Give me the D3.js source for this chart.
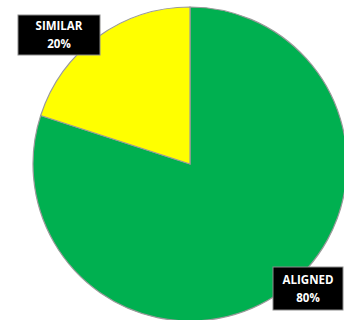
<!DOCTYPE html>
<html>
<head>
<meta charset="utf-8">
<script src="https://cdn.jsdelivr.net/npm/d3@7"></script>
<style>
  body { margin: 0; background: #fff; }
</style>
</head>
<body>
<div id="chart"></div>
<script>
var categories = ["ALIGNED", "SIMILAR"];
var values = [80, 20];
var percentLabels = ["80%", "20%"];
var colors = ["#00B050", "#FFFF00"];

var width = 344, height = 320;
var cx = 190, cy = 164, radius = 157;

var svg = d3.select("#chart")
  .append("svg")
  .attr("width", width)
  .attr("height", height);

var data = categories.map(function(c, i) {
  return { name: c, value: values[i], pct: percentLabels[i], color: colors[i] };
});

var pie = d3.pie()
  .sort(null)
  .value(function(d) { return d.value; });

var arc = d3.arc()
  .innerRadius(0)
  .outerRadius(radius);

var g = svg.append("g")
  .attr("transform", "translate(" + cx + "," + cy + ")");

g.selectAll("path")
  .data(pie(data))
  .enter()
  .append("path")
  .attr("d", arc)
  .style("fill", function(d) { return d.data.color; })
  .style("stroke", "#9a9a9a")
  .style("stroke-width", 1.2);

// label boxes (placed like the original data callouts)
var labelPos = [
  { x: 273, y: 267, w: 70, h: 43 },
  { x: 18, y: 15, w: 82, h: 40 }
];

var labels = svg.selectAll("g.label")
  .data(data)
  .enter()
  .append("g")
  .attr("class", "label")
  .attr("transform", function(d, i) {
    return "translate(" + labelPos[i].x + "," + labelPos[i].y + ")";
  });

labels.append("rect")
  .attr("width", function(d, i) { return labelPos[i].w; })
  .attr("height", function(d, i) { return labelPos[i].h; })
  .style("fill", "#000")
  .style("stroke", "#8c8c8c")
  .style("stroke-width", 1);

labels.append("text")
  .attr("x", function(d, i) { return labelPos[i].w / 2; })
  .attr("y", function(d, i) { return labelPos[i].h / 2 - 5; })
  .attr("text-anchor", "middle")
  .style("font-family", "'Open Sans', sans-serif")
  .style("font-weight", "bold")
  .style("font-size", "11.5px")
  .style("fill", "#fff")
  .text(function(d) { return d.name; });

labels.append("text")
  .attr("x", function(d, i) { return labelPos[i].w / 2; })
  .attr("y", function(d, i) { return labelPos[i].h / 2 + 13; })
  .attr("text-anchor", "middle")
  .style("font-family", "'Open Sans', sans-serif")
  .style("font-weight", "bold")
  .style("font-size", "11.5px")
  .style("fill", "#fff")
  .text(function(d) { return d.pct; });
</script>
</body>
</html>
